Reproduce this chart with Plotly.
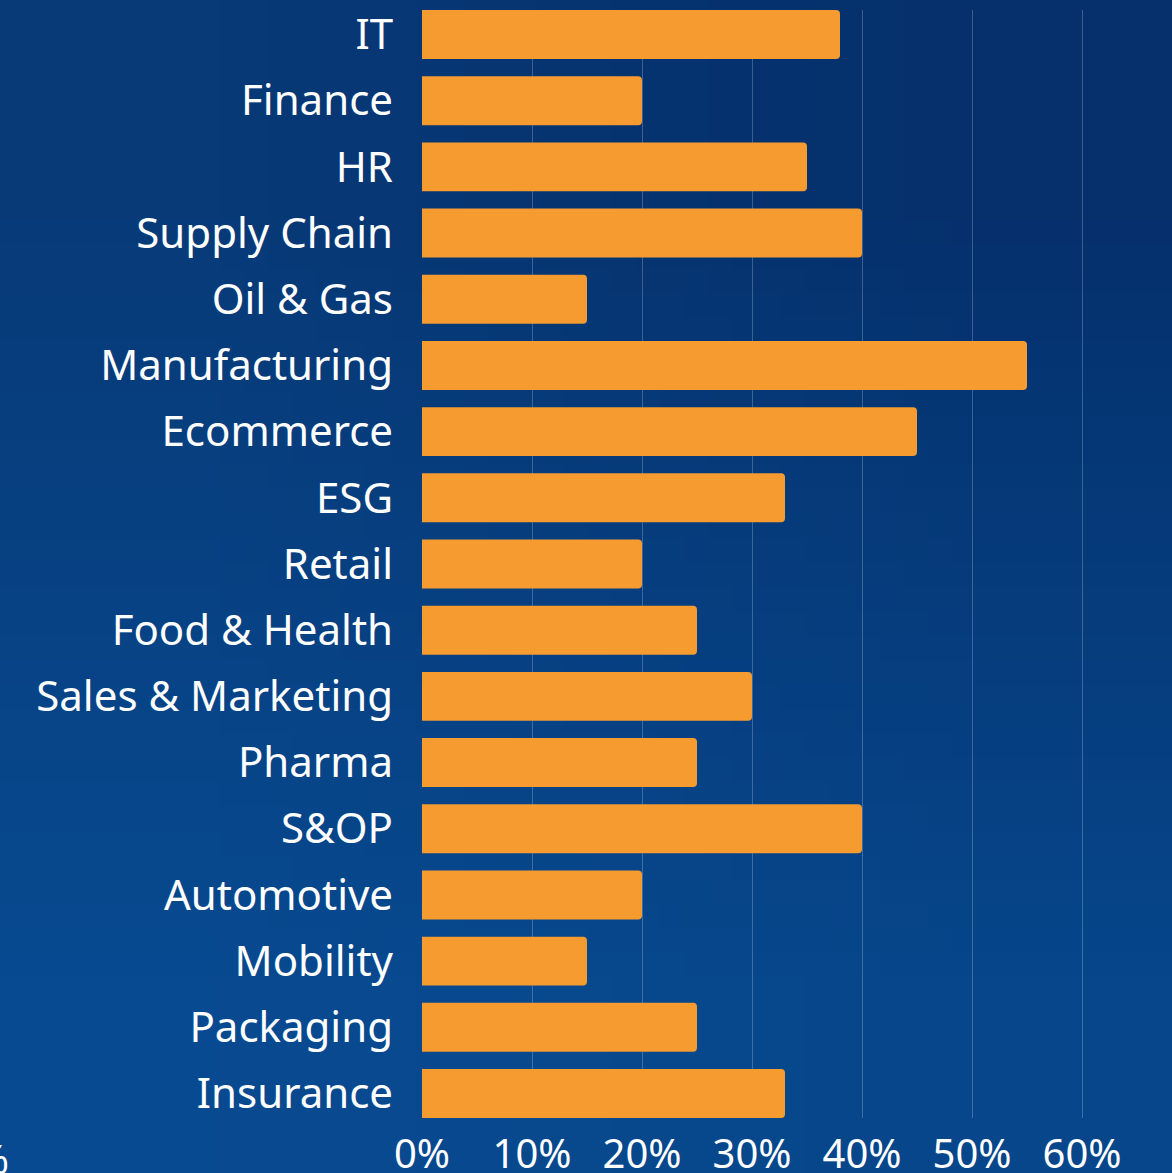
"""
Share of roles by sector - horizontal bar chart on a blue background
"""
import base64
import struct
import zlib
import plotly.graph_objects as go

# sectors, top to bottom
sectors = ['IT', 'Finance', 'HR', 'Supply Chain', 'Oil & Gas', 'Manufacturing',
           'Ecommerce', 'ESG', 'Retail', 'Food & Health', 'Sales & Marketing',
           'Pharma', 'S&OP', 'Automotive', 'Mobility', 'Packaging', 'Insurance']
# share in percent
shares = [38, 20, 35, 40, 15, 55, 45, 33, 20, 25, 30, 25, 40, 20, 15, 25, 33]
tick_vals = [0, 10, 20, 30, 40, 50, 60]
tick_text = [str(v) + '%' for v in tick_vals]

W, H = 1172, 1173
L, T, B = 422, 10, 55
bar_col = '#f59b30'
gap = 0.26
font = 'Noto Sans'


def png_uri(rows):
    # tiny RGB png, used as the blue background gradient
    h, w = len(rows), len(rows[0])
    raw = b''.join(b'\x00' + bytes([c for px in r for c in px]) for r in rows)

    def chunk(tag, data):
        return (struct.pack('>I', len(data)) + tag + data +
                struct.pack('>I', zlib.crc32(tag + data) & 0xffffffff))
    png = (b'\x89PNG\r\n\x1a\n' +
           chunk(b'IHDR', struct.pack('>IIBBBBB', w, h, 8, 2, 0, 0, 0)) +
           chunk(b'IDAT', zlib.compress(raw)) + chunk(b'IEND', b''))
    return 'data:image/png;base64,' + base64.b64encode(png).decode()


bg_rows = [[(8, 58, 120), (6, 52, 112), (5, 48, 108)],
           [(7, 66, 132), (7, 63, 128), (6, 60, 124)],
           [(8, 74, 145), (8, 72, 141), (7, 70, 139)]]

fig = go.Figure(go.Bar(
    x=shares, y=sectors, orientation='h',
    marker=dict(color=bar_col, line=dict(width=0)),
    hoverinfo='skip'))

pw, ph = W - L, H - T - B
fig.add_layout_image(source=png_uri(bg_rows), xref='paper', yref='paper',
                     x=-L / pw, y=1 + T / ph, sizex=W / pw, sizey=H / ph,
                     xanchor='left', yanchor='top', sizing='stretch',
                     layer='below')

fig.update_layout(
    width=W, height=H,
    paper_bgcolor='#07407f', plot_bgcolor='rgba(0,0,0,0)',
    margin=dict(l=L, r=0, t=T, b=B, autoexpand=False),
    bargap=gap, barcornerradius=4,
    showlegend=False,
    font=dict(family=font, color='white'))

fig.update_xaxes(
    range=[0, (W - L) / 11.0], automargin=False,
    tickmode='array', tickvals=tick_vals, ticktext=tick_text,
    showgrid=True, gridcolor='rgba(255,255,255,0.22)', gridwidth=1,
    zeroline=False, showline=False,
    ticks='', ticklabelstandoff=9,
    tickfont=dict(size=40, family=font, color='white'))

fig.update_yaxes(
    range=[len(sectors) - 0.5 - gap / 2, -0.5 + gap / 2], automargin=False,
    showgrid=False, zeroline=False, showline=False,
    ticks='', ticklabelstandoff=28,
    tickfont=dict(size=42, family=font, color='white'))

# left-over tick label cut by the left edge of the picture
fig.add_annotation(text='-40%', xref='paper', yref='paper',
                   x=(11 - L) / pw, y=0, yanchor='top', xanchor='right',
                   yshift=-11, showarrow=False,
                   font=dict(size=40, family=font, color='white'))

fig.write_html('out.html', config={'displayModeBar': False},
               post_script="document.body.style.margin='0';")
